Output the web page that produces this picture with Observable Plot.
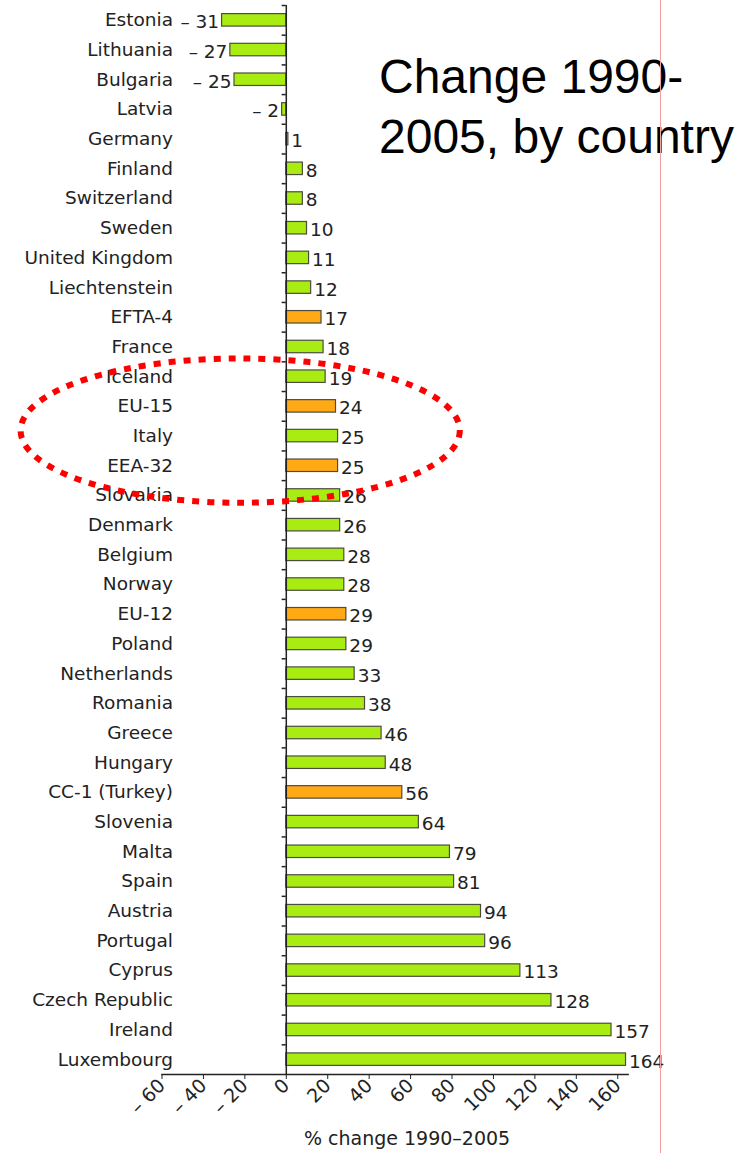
<!DOCTYPE html>
<html>
<head>
<meta charset="utf-8">
<script src="https://cdn.jsdelivr.net/npm/d3@7"></script>
<script src="https://cdn.jsdelivr.net/npm/@observablehq/plot@0.6"></script>
<style>
  html, body { margin: 0; padding: 0; background: #fff; }
  #wrap { position: relative; width: 747px; height: 1153px; overflow: hidden; }
  #title { position: absolute; left: 379px; top: 47px; font-family: "Liberation Sans", Arial, sans-serif; font-size: 48px; line-height: 60px; color: #000; white-space: nowrap; }
  #vline { position: absolute; left: 660px; top: 0; width: 1px; height: 1153px; background: #f3a0a0; }
</style>
</head>
<body>
<div id="wrap">
  <div id="chart"></div>
  <div id="title">Change 1990-<br>2005, by country</div>
  <div id="vline"></div>
</div>
<script>
const countries = ["Estonia","Lithuania","Bulgaria","Latvia","Germany","Finland","Switzerland","Sweden","United Kingdom","Liechtenstein","EFTA-4","France","Iceland","EU-15","Italy","EEA-32","Slovakia","Denmark","Belgium","Norway","EU-12","Poland","Netherlands","Romania","Greece","Hungary","CC-1 (Turkey)","Slovenia","Malta","Spain","Austria","Portugal","Cyprus","Czech Republic","Ireland","Luxembourg"];
const values = [-31,-27,-25,-2,1,8,8,10,11,12,17,18,19,24,25,25,26,26,28,28,29,29,33,38,46,48,56,64,79,81,94,96,113,128,157,164];
const aggregates = ["EFTA-4","EU-15","EEA-32","EU-12","CC-1 (Turkey)"];
const xTicks = [-60,-40,-20,0,20,40,60,80,100,120,140,160];
const axisLabel = "% change 1990–2005";

const green = "#a8ec12";
const orange = "#ffaa14";

const data = countries.map((c, i) => ({country: c, value: values[i], group: aggregates.includes(c) ? "agg" : "country"}));
const fmt = v => v < 0 ? "– " + Math.abs(v) : String(v);

const W = 747, H = 1153, mt = 5, mb = 79, ml = 161.5, mr = 119.4;
const step = (H - mt - mb) / countries.length;

const plot = Plot.plot({
  width: W, height: H,
  marginTop: mt, marginBottom: mb, marginLeft: ml, marginRight: mr,
  style: {fontFamily: "'DejaVu Sans', Verdana, sans-serif", fontSize: "18.5px", color: "#222", background: "white", overflow: "visible"},
  x: {domain: [-60, 165]},
  y: {domain: countries, paddingInner: 0.58, paddingOuter: 0.29, round: false},
  color: {domain: ["country", "agg"], range: [green, orange]},
  marks: [
    Plot.barX(data, {x: "value", y: "country", fill: "group", stroke: "#4c4c40", strokeWidth: 1.2}),
    Plot.ruleX([0], {stroke: "#222", strokeWidth: 1.5}),
    Plot.ruleY(countries, {y: d => d, x1: -2, x2: 0, dy: -step / 2, stroke: "#222", strokeWidth: 1.5}),
    Plot.frame({anchor: "bottom", stroke: "#222", strokeWidth: 1.5}),
    Plot.axisX({ticks: xTicks, tickFormat: fmt, tickRotate: -45, tickSize: 5, tickPadding: 3, label: null, fontSize: 19}),
    Plot.axisY({tickSize: 0, tickPadding: 0, dx: 11, label: null, fontSize: 18.5}),
    Plot.text(data.filter(d => d.value >= 0), {x: "value", y: "country", text: d => fmt(d.value), textAnchor: "start", dx: 3, dy: 2, fill: "#222", fontSize: 18.5}),
    Plot.text(data.filter(d => d.value < 0), {x: "value", y: "country", text: d => fmt(d.value), textAnchor: "end", dx: -3, dy: 2, fill: "#222", fontSize: 18.5}),
    Plot.text([axisLabel], {frameAnchor: "bottom", dx: 12, dy: 70, fill: "#222", fontSize: 19})
  ]
});

document.getElementById("chart").appendChild(plot);

// Dashed highlight ellipse around the aggregate rows, positioned through the plot's scales
const xs = plot.scale("x"), ys = plot.scale("y");
const cy = ys.apply("Italy") + ys.bandwidth / 2 - 5;
const cx = xs.apply(-22);
const rx = xs.apply(84) - xs.apply(-22);
const ry = 2.43 * step;
d3.select(plot).append("ellipse")
  .attr("cx", cx).attr("cy", cy).attr("rx", rx).attr("ry", ry)
  .attr("fill", "none").attr("stroke", "#ff0000").attr("stroke-width", 6)
  .attr("stroke-dasharray", "7 8");
</script>
</body>
</html>
